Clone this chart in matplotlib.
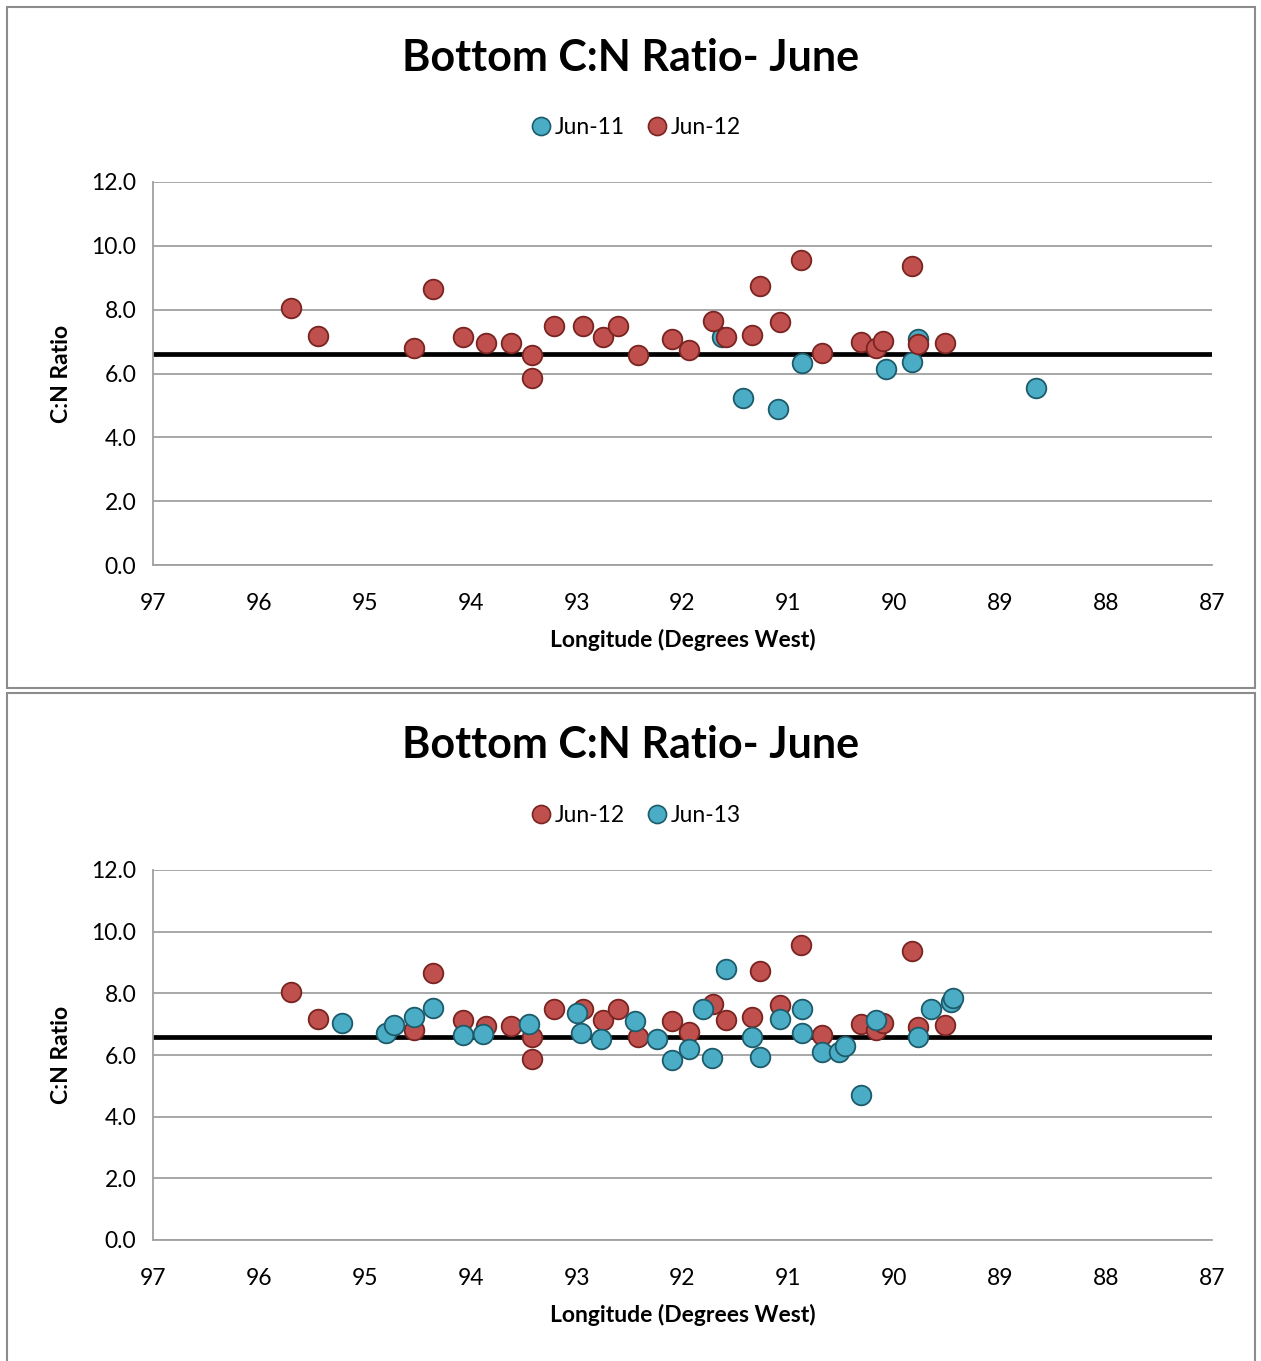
import matplotlib.pyplot as plt
from matplotlib.patches import Rectangle
from matplotlib.lines import Line2D

plt.rcParams['font.family'] = ['Lato', 'DejaVu Sans']

# Jun-12 stations (same in both panels)
lon_jun12 = [95.70, 95.44, 94.54, 94.36, 94.07, 93.86, 93.62, 93.42, 93.42, 93.21,
             92.94, 92.75, 92.61, 92.42, 92.10, 91.94, 91.71, 91.59, 91.34, 91.27,
             91.08, 90.88, 90.68, 90.31, 90.17, 90.11, 89.83, 89.78, 89.52]
cn_jun12 = [8.05, 7.18, 6.80, 8.65, 7.13, 6.94, 6.94, 6.58, 5.87, 7.49,
            7.50, 7.15, 7.49, 6.58, 7.09, 6.74, 7.64, 7.13, 7.22, 8.74,
            7.62, 9.56, 6.65, 7.00, 6.80, 7.03, 9.37, 6.91, 6.97]

# Jun-11 stations
lon_jun11 = [91.63, 91.43, 91.10, 90.87, 90.08, 89.83, 89.78, 88.66]
cn_jun11 = [7.13, 5.23, 4.88, 6.34, 6.14, 6.37, 7.08, 5.54]

# Jun-13 stations
lon_jun13 = [95.22, 94.80, 94.72, 94.54, 94.36, 94.07, 93.88, 93.45, 93.00, 92.96,
             92.77, 92.45, 92.24, 92.10, 91.94, 91.81, 91.72, 91.59, 91.34, 91.27,
             91.08, 90.87, 90.87, 90.68, 90.52, 90.47, 90.31, 90.17, 89.78, 89.65,
             89.46, 89.45]
cn_jun13 = [7.05, 6.70, 6.96, 7.24, 7.54, 6.64, 6.67, 7.01, 7.35, 6.72,
            6.51, 7.11, 6.52, 5.85, 6.20, 7.49, 5.91, 8.79, 6.59, 5.95,
            7.17, 7.49, 6.70, 6.09, 6.11, 6.30, 4.70, 7.14, 6.59, 7.49,
            7.73, 7.84]

ref_line = 6.6
title = 'Bottom C:N Ratio- June'
yticks = [0, 2, 4, 6, 8, 10, 12]
xticks = list(range(87, 98))

red, red_edge = '#C0504D', '#7A2421'
blue, blue_edge = '#4BACC6', '#1D5B6B'

fig = plt.figure(figsize=(12.61, 13.61), dpi=100)
W, H = 1261, 1361

# panel borders
fig.patches.append(Rectangle((7 / W, 1 - 688 / H), 1248 / W, 681 / H, transform=fig.transFigure,
                             fill=False, edgecolor='#8C8C8C', lw=1.5))
fig.patches.append(Rectangle((7 / W, -0.01), 1248 / W, 1 - 693 / H + 0.01, transform=fig.transFigure,
                             fill=False, edgecolor='#8C8C8C', lw=1.5))


def panel(rect, series, title_y, legend_y):
    ax = fig.add_axes(rect)
    for lon, cn, col, edge, lab in series:
        ax.scatter(lon, cn, s=200, color=col, edgecolors=edge, linewidths=1.3, zorder=3, label=lab)
    ax.axhline(ref_line, color='black', lw=3.4, zorder=2)
    ax.set_xlim(97, 87)
    ax.set_ylim(0, 12)
    ax.set_xticks(xticks)
    ax.set_yticks(yticks)
    ax.set_yticklabels([f'{v:.1f}' for v in yticks])
    ax.tick_params(length=0, labelsize=16.5, pad=12)
    ax.tick_params(axis='x', pad=20)
    ax.grid(axis='y', color='#A0A0A0', lw=1.3)
    ax.set_axisbelow(True)
    for s in ['top', 'right']:
        ax.spines[s].set_visible(False)
    for s in ['left', 'bottom']:
        ax.spines[s].set_color('#A0A0A0')
        ax.spines[s].set_linewidth(1.3)
    ax.set_xlabel('Longitude (Degrees West)', fontsize=16.5, fontweight='bold', labelpad=11)
    ax.set_ylabel('C:N Ratio', fontsize=16.5, fontweight='bold', labelpad=14)
    fig.text(0.5, title_y, title, ha='center', va='center', fontsize=31, fontweight='bold')
    handles = [Line2D([], [], marker='o', ls='', markersize=13, markerfacecolor=c,
                      markeredgecolor=e, markeredgewidth=1.2) for _, _, c, e, _ in series]
    fig.legend(handles, [lab for *_, lab in series], loc='center', bbox_to_anchor=(0.503, legend_y),
               ncol=2, frameon=False, fontsize=16.5, handletextpad=0.0, columnspacing=0.8,
               handlelength=1.2)
    return ax


panel([153 / W, 1 - 565 / H, 1059 / W, 383 / H],
      [(lon_jun11, cn_jun11, blue, blue_edge, 'Jun-11'),
       (lon_jun12, cn_jun12, red, red_edge, 'Jun-12')],
      1 - 58 / H, 1 - 128 / H)

panel([153 / W, 1 - 1240 / H, 1059 / W, 370 / H],
      [(lon_jun12, cn_jun12, red, red_edge, 'Jun-12'),
       (lon_jun13, cn_jun13, blue, blue_edge, 'Jun-13')],
      1 - 745 / H, 1 - 816 / H)

fig.savefig('out.png', dpi=100)
